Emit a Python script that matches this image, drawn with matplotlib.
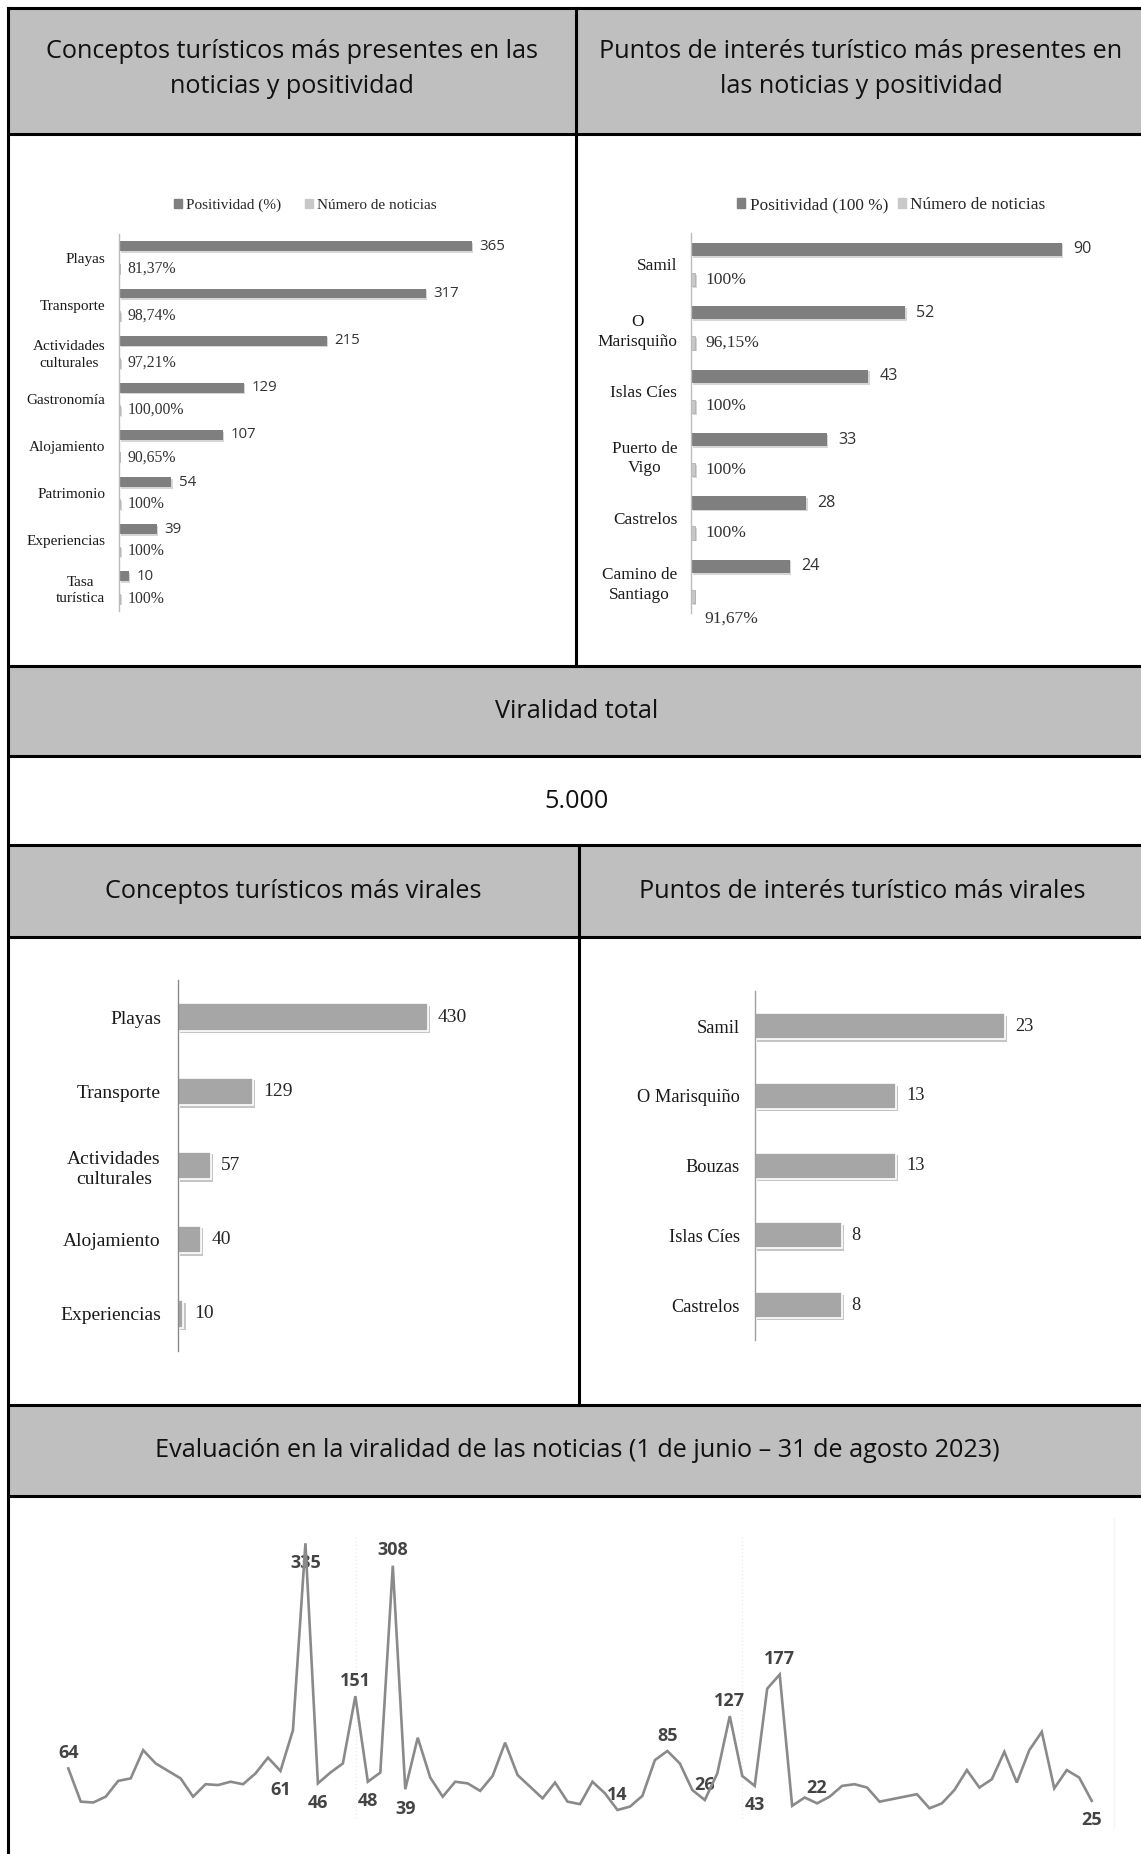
import matplotlib

matplotlib.use("Agg")
import matplotlib.pyplot as plt
import matplotlib.patheffects as pe
from matplotlib.patches import Patch, Rectangle
import numpy as np

W, H = 1141, 1854

# Conceptos turísticos: número de noticias y positividad (%)
concepts = ["Playas", "Transporte", "Actividades\nculturales", "Gastronomía",
            "Alojamiento", "Patrimonio", "Experiencias", "Tasa\nturística"]
concept_news = [365, 317, 215, 129, 107, 54, 39, 10]
concept_pos = [81.37, 98.74, 97.21, 100.00, 90.65, 100, 100, 100]
concept_pos_dec = [2, 2, 2, 2, 2, 0, 0, 0]

# Puntos de interés: número de noticias y positividad (%)
poi = ["Samil", "O\nMarisquiño", "Islas Cíes", "Puerto de\nVigo",
       "Castrelos", "Camino de\nSantiago"]
poi_news = [90, 52, 43, 33, 28, 24]
poi_pos = [100, 96.15, 100, 100, 100, 91.67]
poi_pos_dec = [0, 2, 0, 0, 0, 2]

total_virality = "5.000"

viral_concepts = ["Playas", "Transporte", "Actividades\nculturales",
                  "Alojamiento", "Experiencias"]
viral_concepts_vals = [430, 129, 57, 40, 10]

viral_poi = ["Samil", "O Marisquiño", "Bouzas", "Islas Cíes", "Castrelos"]
viral_poi_vals = [23, 13, 13, 8, 8]

# viralidad diaria, 1 de junio - 31 de agosto 2023
daily_virality = [
    64, 24, 23, 30, 49, 52, 86, 70, 61, 52, 30, 45, 44, 48, 45, 58, 77, 61, 110, 335,
    46, 59, 70, 151, 48, 59, 308, 39, 101, 53, 30, 48, 46, 37, 55, 95, 56, 42, 28, 47,
    24, 21, 48, 34, 14, 18, 31, 74, 85, 70, 38, 26, 58, 127, 55, 43, 160, 177, 19, 29,
    22, 30, 43, 45, 41, 24, 27, 30, 33, 16, 22, 38, 62, 41, 51, 84, 47, 86, 108, 40,
    62, 53, 25,
]
labelled_days = [0, 17, 19, 20, 23, 24, 26, 27, 44, 48, 51, 53, 55, 57, 60, 82]
label_side = ["up", "down", "peak", "down", "up", "down", "up", "down",
              "up", "up", "up", "up", "down", "up", "up", "down"]

HEADER = "#bfbfbf"
DARK = "#7f7f7f"
LIGHT = "#c8c8c8"
BAR = "#a6a6a6"
SERIF = "Liberation Serif"
SANS = "Open Sans"

fig = plt.figure(figsize=(W / 100, H / 100), dpi=100)
fig.patch.set_facecolor("white")


def add_px_axes(left, top, right, bottom):
    return fig.add_axes([left / W, 1 - bottom / H, (right - left) / W, (bottom - top) / H])


def fmt_pct(v, d):
    return f"{v:.{d}f}".replace(".", ",") + "%"


# ---- table frame ----
bg = fig.add_axes([0, 0, 1, 1], zorder=0)
bg.set_xlim(0, W)
bg.set_ylim(H, 0)
bg.axis("off")

L, R = 8, 1146
for top, bot in [(8, 134), (666, 756), (845, 937), (1405, 1496)]:
    bg.add_patch(Rectangle((L, top), R - L, bot - top, fc=HEADER, ec="none"))

# faint guides left over from the pasted line chart
for xv in (356, 741.5):
    bg.plot([xv, xv], [1537, 1820], color="#ededed", ls=":", lw=1)
bg.plot([1114, 1114], [1518, 1828], color="#f4f4f4", lw=1)

for yv in [8, 134, 666, 756, 845, 937, 1405, 1496]:
    bg.plot([L, R], [yv, yv], color="black", lw=2.2, solid_capstyle="projecting")
bg.plot([L, L], [8, H + 10], color="black", lw=2.2)
bg.plot([576, 576], [8, 666], color="black", lw=2.2)
bg.plot([579, 579], [845, 1405], color="black", lw=2.2)

hdr = dict(ha="center", va="center", fontsize=18.2, family=SANS, color="#111111",
           linespacing=1.5)
bg.text(292, 69, "Conceptos turísticos más presentes en las\nnoticias y positividad", **hdr)
bg.text(861, 69, "Puntos de interés turístico más presentes en\nlas noticias y positividad", **hdr)
bg.text(577, 711.5, "Viralidad total", **hdr)
bg.text(577, 801.5, total_virality, **hdr)
bg.text(293, 891.5, "Conceptos turísticos más virales", **hdr)
bg.text(862, 891.5, "Puntos de interés turístico más virales", **hdr)
bg.text(577, 1450.5, "Evaluación en la viralidad de las noticias (1 de junio – 31 de agosto 2023)", **hdr)

shadow_soft = [pe.SimplePatchShadow(offset=(1, -1.2), shadow_rgbFace="0.55", alpha=0.35), pe.Normal()]
shadow_bar = [pe.SimplePatchShadow(offset=(1.6, -1.8), shadow_rgbFace="0.5", alpha=0.45), pe.Normal()]


def style_cat_axis(ax, labels, fontsize, pad, spine_color, linespacing):
    ax.set_facecolor("none")
    for side in ("top", "right", "bottom"):
        ax.spines[side].set_visible(False)
    ax.spines["left"].set_color(spine_color)
    ax.spines["left"].set_linewidth(1.0)
    ax.set_xticks([])
    ax.set_yticks(np.arange(len(labels)))
    ax.set_yticklabels(labels, family=SERIF, fontsize=fontsize, color="#1a1a1a")
    for lbl in ax.get_yticklabels():
        lbl.set_multialignment("center")
        lbl.set_linespacing(linespacing)
    ax.tick_params(axis="y", length=0, pad=pad)
    ax.set_ylim(len(labels) - 0.5, -0.5)


def paired_chart(ax, cats, news, pos, dec, px_per_unit, width_px, cat_fs, val_fs, pct_fs,
                 val_gap, pct_gap, last_drop=0):
    y = np.arange(len(cats))
    off, h = 0.237, 0.21
    dark = ax.barh(y - off, news, height=h, color=DARK)
    light = ax.barh(y + off, [p / 100 for p in pos], height=h, color=LIGHT,
                    edgecolor="#b0b0b0", linewidth=0.6)
    for b in list(dark) + list(light):
        b.set_path_effects(shadow_soft)
    ax.set_xlim(0, width_px / px_per_unit)
    style_cat_axis(ax, cats, cat_fs, 10, "#bcbcbc", 1.32)
    for i, (n, p, d) in enumerate(zip(news, pos, dec)):
        ax.annotate(str(n), (n, i - off), xytext=(val_gap, 0), textcoords="offset points",
                    va="center", ha="left", fontsize=val_fs, family=SANS, color="#333333")
        dy = -last_drop if i == len(cats) - 1 else 0
        ax.annotate(fmt_pct(p, d), (p / 100, i + off), xytext=(pct_gap, dy),
                    textcoords="offset points", va="center", ha="left",
                    fontsize=pct_fs, family=SERIF, color="#333333")


# ---- top left ----
ax1 = add_px_axes(119.2, 234, 560, 611)
paired_chart(ax1, concepts, concept_news, concept_pos, concept_pos_dec, 0.9666, 440.8,
             11, 10.8, 11.3, 5.5, 5.5)
fig.legend([Patch(color=DARK), Patch(color=LIGHT)], ["Positividad (%)", "Número de noticias"],
           loc="center", bbox_to_anchor=(305.5 / W, 1 - 205 / H), ncol=2, frameon=False,
           handlelength=0.5, handleheight=0.5, handletextpad=0.25, columnspacing=1.6,
           prop={"family": SERIF, "size": 11}, labelcolor="#262626")

# ---- top right ----
ax2 = add_px_axes(691.2, 232.8, 1120, 613)
paired_chart(ax2, poi, poi_news, poi_pos, poi_pos_dec, 4.116, 428.8,
             12.4, 11.6, 12.6, 8, 7, last_drop=16)
fig.legend([Patch(color=DARK), Patch(color=LIGHT)], ["Positividad (100 %)", "Número de noticias"],
           loc="center", bbox_to_anchor=(891.5 / W, 1 - 205 / H), ncol=2, frameon=False,
           handlelength=0.45, handleheight=0.5, handletextpad=0.25, columnspacing=0.6,
           prop={"family": SERIF, "size": 12.4}, labelcolor="#262626")


def single_chart(ax, cats, vals, px_per_unit, width_px, fs, pad, gap, spine_color):
    y = np.arange(len(cats))
    bars = ax.barh(y, vals, height=0.37, color=BAR, edgecolor="white", linewidth=1.2)
    for b in bars:
        b.set_path_effects(shadow_bar)
    ax.set_xlim(0, width_px / px_per_unit)
    style_cat_axis(ax, cats, fs, pad, spine_color, 1.3)
    for i, v in enumerate(vals):
        ax.annotate(str(v), (v, i), xytext=(gap, 0), textcoords="offset points",
                    va="center", ha="left", fontsize=fs, family=SERIF, color="#262626")


# ---- bottom left / right ----
ax3 = add_px_axes(177.6, 980, 560, 1351)
single_chart(ax3, viral_concepts, viral_concepts_vals, 0.5816, 382.4, 14, 12, 7.5, "#8a8a8a")

ax4 = add_px_axes(754.6, 991.4, 1120, 1339.9)
single_chart(ax4, viral_poi, viral_poi_vals, 10.89, 365.4, 13.2, 10.5, 7, "#a0a0a0")

# ---- daily virality line ----
ax5 = add_px_axes(68.3, 1505.9, 1091.7, 1821.6)
ax5.set_facecolor("none")
days = np.arange(len(daily_virality))
ax5.plot(days, daily_virality, color="#8a8a8a", lw=1.9, solid_joinstyle="miter",
         clip_on=False, zorder=3)
ax5.set_xlim(0, len(daily_virality) - 1)
ax5.set_ylim(0, 380)
ax5.axis("off")
offsets = {"up": 11, "down": -14, "peak": -14.5}
for idx, side in zip(labelled_days, label_side):
    ax5.annotate(str(daily_virality[idx]), (idx, daily_virality[idx]),
                 xytext=(0, offsets[side]), textcoords="offset points",
                 ha="center", va="center", fontsize=13, family=SANS, weight="bold",
                 color="#444444", zorder=2, annotation_clip=False)

fig.savefig("out.png", dpi=100, facecolor="white")
